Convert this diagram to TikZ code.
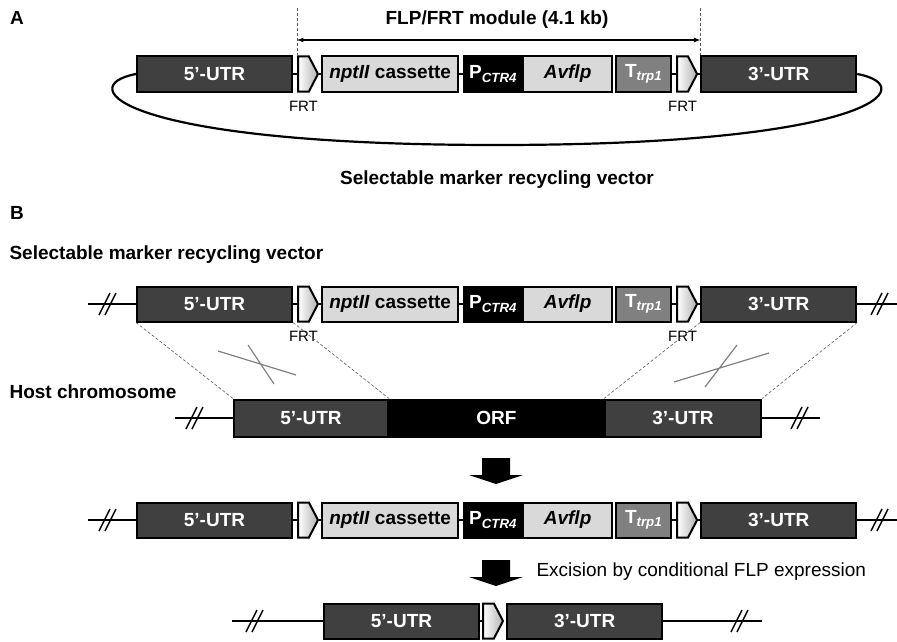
\documentclass[tikz,border=0pt]{standalone}
\usepackage{fontspec}
\setmainfont{Liberation Sans}
\usetikzlibrary{positioning}
\usetikzlibrary{shapes.symbols}
\usetikzlibrary{arrows}

\definecolor{utrgray}{gray}{0.25}
\definecolor{cassgray}{gray}{0.85}
\definecolor{termgray}{gray}{0.5}
\definecolor{guidegray}{gray}{0.35}

\tikzset{
  part/.style={draw, line width=2pt, minimum height=35pt, inner sep=0pt,
    font=\fontsize{19}{22}\selectfont\bfseries},
  utr/.style={part, fill=utrgray, text=white},
  cass/.style={part, fill=cassgray, text=black},
  prom/.style={part, fill=black, text=white},
  term/.style={part, fill=termgray, text=white},
  frt/.style={draw, line width=2pt, signal, signal to=east, signal pointer angle=125,
    minimum width=20pt, minimum height=35pt, inner sep=0pt,
    left color=white, right color=gray!60},
  dna/.style={line width=2pt},
  brk/.style={line width=1.5pt},
  guide/.style={densely dashed, line width=0.6pt, guidegray},
  xover/.style={line width=1.2pt, gray},
  lbl/.style={font=\fontsize{19}{22}\selectfont\bfseries},
  frtlbl/.style={font=\fontsize{15}{18}\selectfont, inner sep=1pt},
}

\begin{document}
\begin{tikzpicture}[x=1pt, y=-1pt]
  \useasboundingbox (0,0) rectangle (897,642);
  \fill[white] (0,0) rectangle (897,642);

  % panel letters and titles
  \node[lbl] (pa) at (17,18) {A};
  \node[lbl] (pb) at (17,213) {B};
  \node[lbl] (modlbl) at (497,20) {FLP/FRT module (4.1 kb)};
  \node[lbl] (vecA) at (497,180) {Selectable marker recycling vector};
  \node[lbl, anchor=west] (vecB) at (6,255) {Selectable marker recycling vector};
  \node[lbl, anchor=west] (host) at (6,392) {Host chromosome};

  % the vector construct (A, B top, B after integration)
  \foreach \rw/\y in {a/74,b/304,c/520}{
    \node[utr, minimum width=155pt, anchor=west] (\rw5) at (136,\y) {5’-UTR};
    \node[frt, right=4pt of \rw5] (\rw frta) {};
    \node[cass, minimum width=136pt, right=2pt of \rw frta] (\rw npt) {\textit{nptII} cassette};
    \node[prom, minimum width=58pt, right=4pt of \rw npt] (\rw pctr) {P\textsubscript{\textit{CTR4}}};
    \node[cass, minimum width=89pt, right=-1pt of \rw pctr] (\rw flp) {\textit{Avflp}};
    \node[term, minimum width=55pt, right=2pt of \rw flp] (\rw trp) {T\textsubscript{\textit{trp1}}};
    \node[frt, right=4pt of \rw trp] (\rw frtb) {};
    \node[utr, minimum width=155pt, right=2pt of \rw frtb] (\rw3) {3’-UTR};
    \draw[dna] (\rw5) -- (\rw frta) (\rw frta) -- (\rw npt) (\rw npt) -- (\rw pctr)
      (\rw trp) -- (\rw frtb) (\rw frtb) -- (\rw3);
  }

  \foreach \rw in {a,b}{
    \node[frtlbl, below=7pt of \rw frta] (\rw frtlA) {FRT};
    \node[frtlbl, below=7pt of \rw frtb] (\rw frtlB) {FRT};
  }

  % A: module span and circular backbone
  \coordinate (mL) at (afrta.west |- 0,8);
  \coordinate (mR) at (a3.west |- 0,8);
  \draw[guide] (mL) -- (mL |- a5.north);
  \draw[guide] (mR) -- (mR |- a3.north);
  \draw[-latex, line width=1.2pt] (497,40) -- (mL |- 0,40);
  \draw[-latex, line width=1.2pt] (497,40) -- (mR |- 0,40);
  \draw[line width=2.2pt] (a5.west) .. controls (72,86) and (120,145) .. (497,145)
    .. controls (874,145) and (922,86) .. (a3.east);

  % B: flanking chromosome lines
  \foreach \rw/\y in {b/304,c/520}{
    \draw[dna] (88,\y) -- (\rw5) (\rw3) -- (897,\y);
  }

  % host chromosome
  \node[utr, minimum width=154pt, minimum height=37pt, anchor=west] (h5) at (233,418) {5’-UTR};
  \node[prom, minimum width=217pt, minimum height=37pt, right=-2pt of h5] (horf) {ORF};
  \node[utr, minimum width=156pt, minimum height=37pt, right=-2pt of horf] (h3) {3’-UTR};
  \draw[dna] (175,418) -- (h5) (h3) -- (820,418);

  % homologous recombination
  \draw[guide] (b5.south west) -- (h5.north west);
  \draw[guide] (b5.south east) -- (h5.north east);
  \draw[guide] (b3.south west) -- (h3.north west);
  \draw[guide] (b3.south east) -- (h3.north east);
  \draw[xover] (218,351) -- (296,375) (248,345) -- (274,384);
  \draw[xover] (674,382) -- (769,353) (737,345) -- (705,387);

  % after excision
  \node[utr, minimum width=155pt, anchor=west] (f5) at (323,621) {5’-UTR};
  \node[frt, right=2pt of f5] (ffrt) {};
  \node[utr, minimum width=155pt, right=2pt of ffrt] (f3) {3’-UTR};
  \draw[dna] (232,621) -- (f5) (f5) -- (ffrt) (f3) -- (762,621);

  % breaks
  \foreach \bx/\by in {108/304,880/304,195/418,800/418,108/520,880/520,255/621,740/621}{
    \draw[brk] (\bx-9,\by+11) -- (\bx+2,\by-11) (\bx-3,\by+11) -- (\bx+8,\by-11);
  }

  % block arrows
  \foreach \ay in {458,560}{
    \fill (482,\ay) -- (510,\ay) -- (510,\ay+17) -- (523,\ay+17) -- (496,\ay+26)
      -- (469,\ay+17) -- (482,\ay+17) -- cycle;
  }
  \node[anchor=west, font=\fontsize{19}{22}\selectfont] (exc) at (533,572)
    {Excision by conditional FLP expression};
\end{tikzpicture}
\end{document}
